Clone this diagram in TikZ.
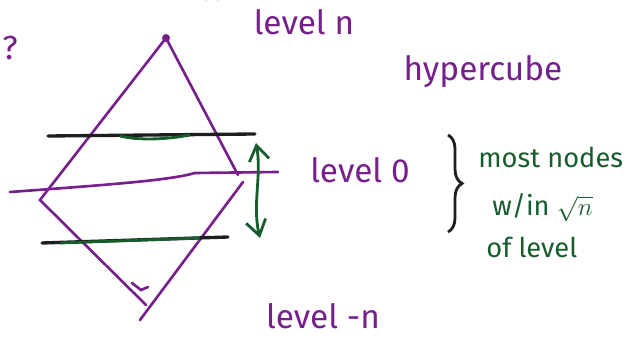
\documentclass[tikz,border=0pt]{standalone}
\usepackage{fontspec}
\setmainfont{Fira Sans}
\usetikzlibrary{arrows.meta,decorations.pathreplacing}
\definecolor{pen}{RGB}{118,32,140}
\definecolor{marker}{RGB}{22,92,44}
\definecolor{ink}{RGB}{30,30,30}
\definecolor{biro}{RGB}{20,90,200}
\begin{document}
\begin{tikzpicture}
  [
  x=0.02cm, y=-0.02cm,
  edgeline/.style={draw=pen, line width=1.5pt, line cap=round},
  cutline/.style={draw=ink, line width=1.9pt, line cap=round},
  lvllabel/.style={text=pen, inner sep=0pt, font=\fontsize{19}{22}\selectfont},
  notelabel/.style={text=marker, inner sep=0pt, anchor=west, font=\fontsize{15.5}{18}\selectfont}
  ]
  \useasboundingbox (0,0) rectangle (629,340);
  % corners of the sketch
  \coordinate (apex) at (166,38);
  \coordinate (west) at (40,200);
  \coordinate (east) at (238,175);
  \coordinate (east2) at (243,182);
  \coordinate (foot) at (146,305);
  \coordinate (tail) at (140,320);
  \fill[pen] (apex) circle (4);
  \draw[edgeline] (apex) -- (west) -- (foot);
  \draw[edgeline] (apex) -- (east);
  \draw[edgeline] (east2) -- (tail);
  \draw[edgeline] (132,283) -- (141,290) -- (148,287);
  % level 0 line
  \coordinate (mid-l) at (10,192);
  \coordinate (mid-r) at (278,172);
  \draw[edgeline] (mid-l) .. controls (120,184) and (170,180) .. (195,173) -- (mid-r);
  % upper and lower cuts
  \coordinate (up-l) at (48,136);
  \coordinate (up-r) at (255,134);
  \coordinate (lo-l) at (42,243);
  \coordinate (lo-r) at (228,237);
  \draw[cutline] (up-l) -- (up-r);
  \draw[marker, line width=1.6pt] (120,136) .. controls (140,141) and (170,139) .. (190,135);
  \draw[cutline] (lo-l) -- (lo-r);
  \draw[marker, line width=1.6pt] (60,243) -- (200,238);
  % spread between the cuts
  \coordinate (arr-t) at (256,143);
  \coordinate (arr-b) at (260,238);
  \draw[marker, line width=1.6pt, {Straight Barb[length=3mm,width=4mm]}-{Straight Barb[length=3mm,width=4mm]}]
    (arr-t) .. controls (262,175) and (252,205) .. (arr-b);
  % labels
  \node[lvllabel] (lvl-n) at (304,22) {level n};
  \node[lvllabel] (cube) at (483,72) {hypercube};
  \node[lvllabel] (lvl-0) at (360,170) {level 0};
  \node[lvllabel] (lvl-m) at (323,316) {level -n};
  \node[lvllabel, anchor=west] (ask) at (2,48) {?};
  \draw[decorate, decoration={brace, amplitude=8pt}, ink, line width=1.6pt]
    (448,135) -- (448,232);
  \node[notelabel] (most) at (478,157) {most nodes};
  \node[notelabel] (within) at (492,206) {w/in \smash{$\sqrt{n}$}};
  \node[notelabel] (oflvl) at (486,247) {of level};
  \draw[biro, line width=1.5pt] (205,0) arc (180:360:7 and 4);
\end{tikzpicture}
\end{document}
